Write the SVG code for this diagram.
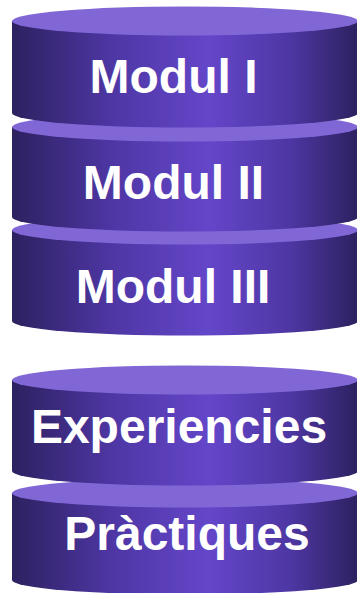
<svg xmlns="http://www.w3.org/2000/svg" width="357" height="593" viewBox="0 0 357 593">
<defs>
<linearGradient id="side" x1="0" y1="0" x2="1" y2="0">
<stop offset="0" stop-color="#2d2160"/>
<stop offset="0.3" stop-color="#4f37a6"/>
<stop offset="0.57" stop-color="#6446c9"/>
<stop offset="0.8" stop-color="#4e37a4"/>
<stop offset="1" stop-color="#2d2160"/>
</linearGradient>
</defs>
<style>
.side{fill:url(#side)}
.top{fill:#8166d6}
.lbl{font-family:"Liberation Sans",Arial,sans-serif;font-weight:bold;font-size:48px;fill:#ffffff;text-anchor:middle}
</style>
<rect width="357" height="593" fill="#ffffff"/>
<g id="cyl-practiques">
<path class="side" d="M12,493 L12,580 A173,14.5 0 0 0 358,580 L358,493 Z"/>
<ellipse class="top" cx="185" cy="493" rx="173" ry="14.5"/>
<text class="lbl" x="187" y="550">Pràctiques</text>
</g>
<g id="cyl-experiencies">
<path class="side" d="M12,380 L12,471 A173,14.5 0 0 0 358,471 L358,380 Z"/>
<ellipse class="top" cx="185" cy="380" rx="173" ry="14.5"/>
<text class="lbl" x="179" y="443">Experiencies</text>
</g>
<g id="cyl-modul3">
<path class="side" d="M12,230 L12,321 A173,14.5 0 0 0 358,321 L358,230 Z"/>
<ellipse class="top" cx="185" cy="230" rx="173" ry="14.5"/>
<text class="lbl" x="173" y="303">Modul III</text>
</g>
<g id="cyl-modul2">
<path class="side" d="M12,127 L12,217 A173,14.5 0 0 0 358,217 L358,127 Z"/>
<ellipse class="top" cx="185" cy="127" rx="173" ry="14.5"/>
<text class="lbl" x="173.5" y="199">Modul II</text>
</g>
<g id="cyl-modul1">
<path class="side" d="M12,21 L12,113 A173,14.5 0 0 0 358,113 L358,21 Z"/>
<ellipse class="top" cx="185" cy="21" rx="173" ry="14.5"/>
<text class="lbl" x="173.5" y="93">Modul I</text>
</g>
<g id="connectors"/>
</svg>
